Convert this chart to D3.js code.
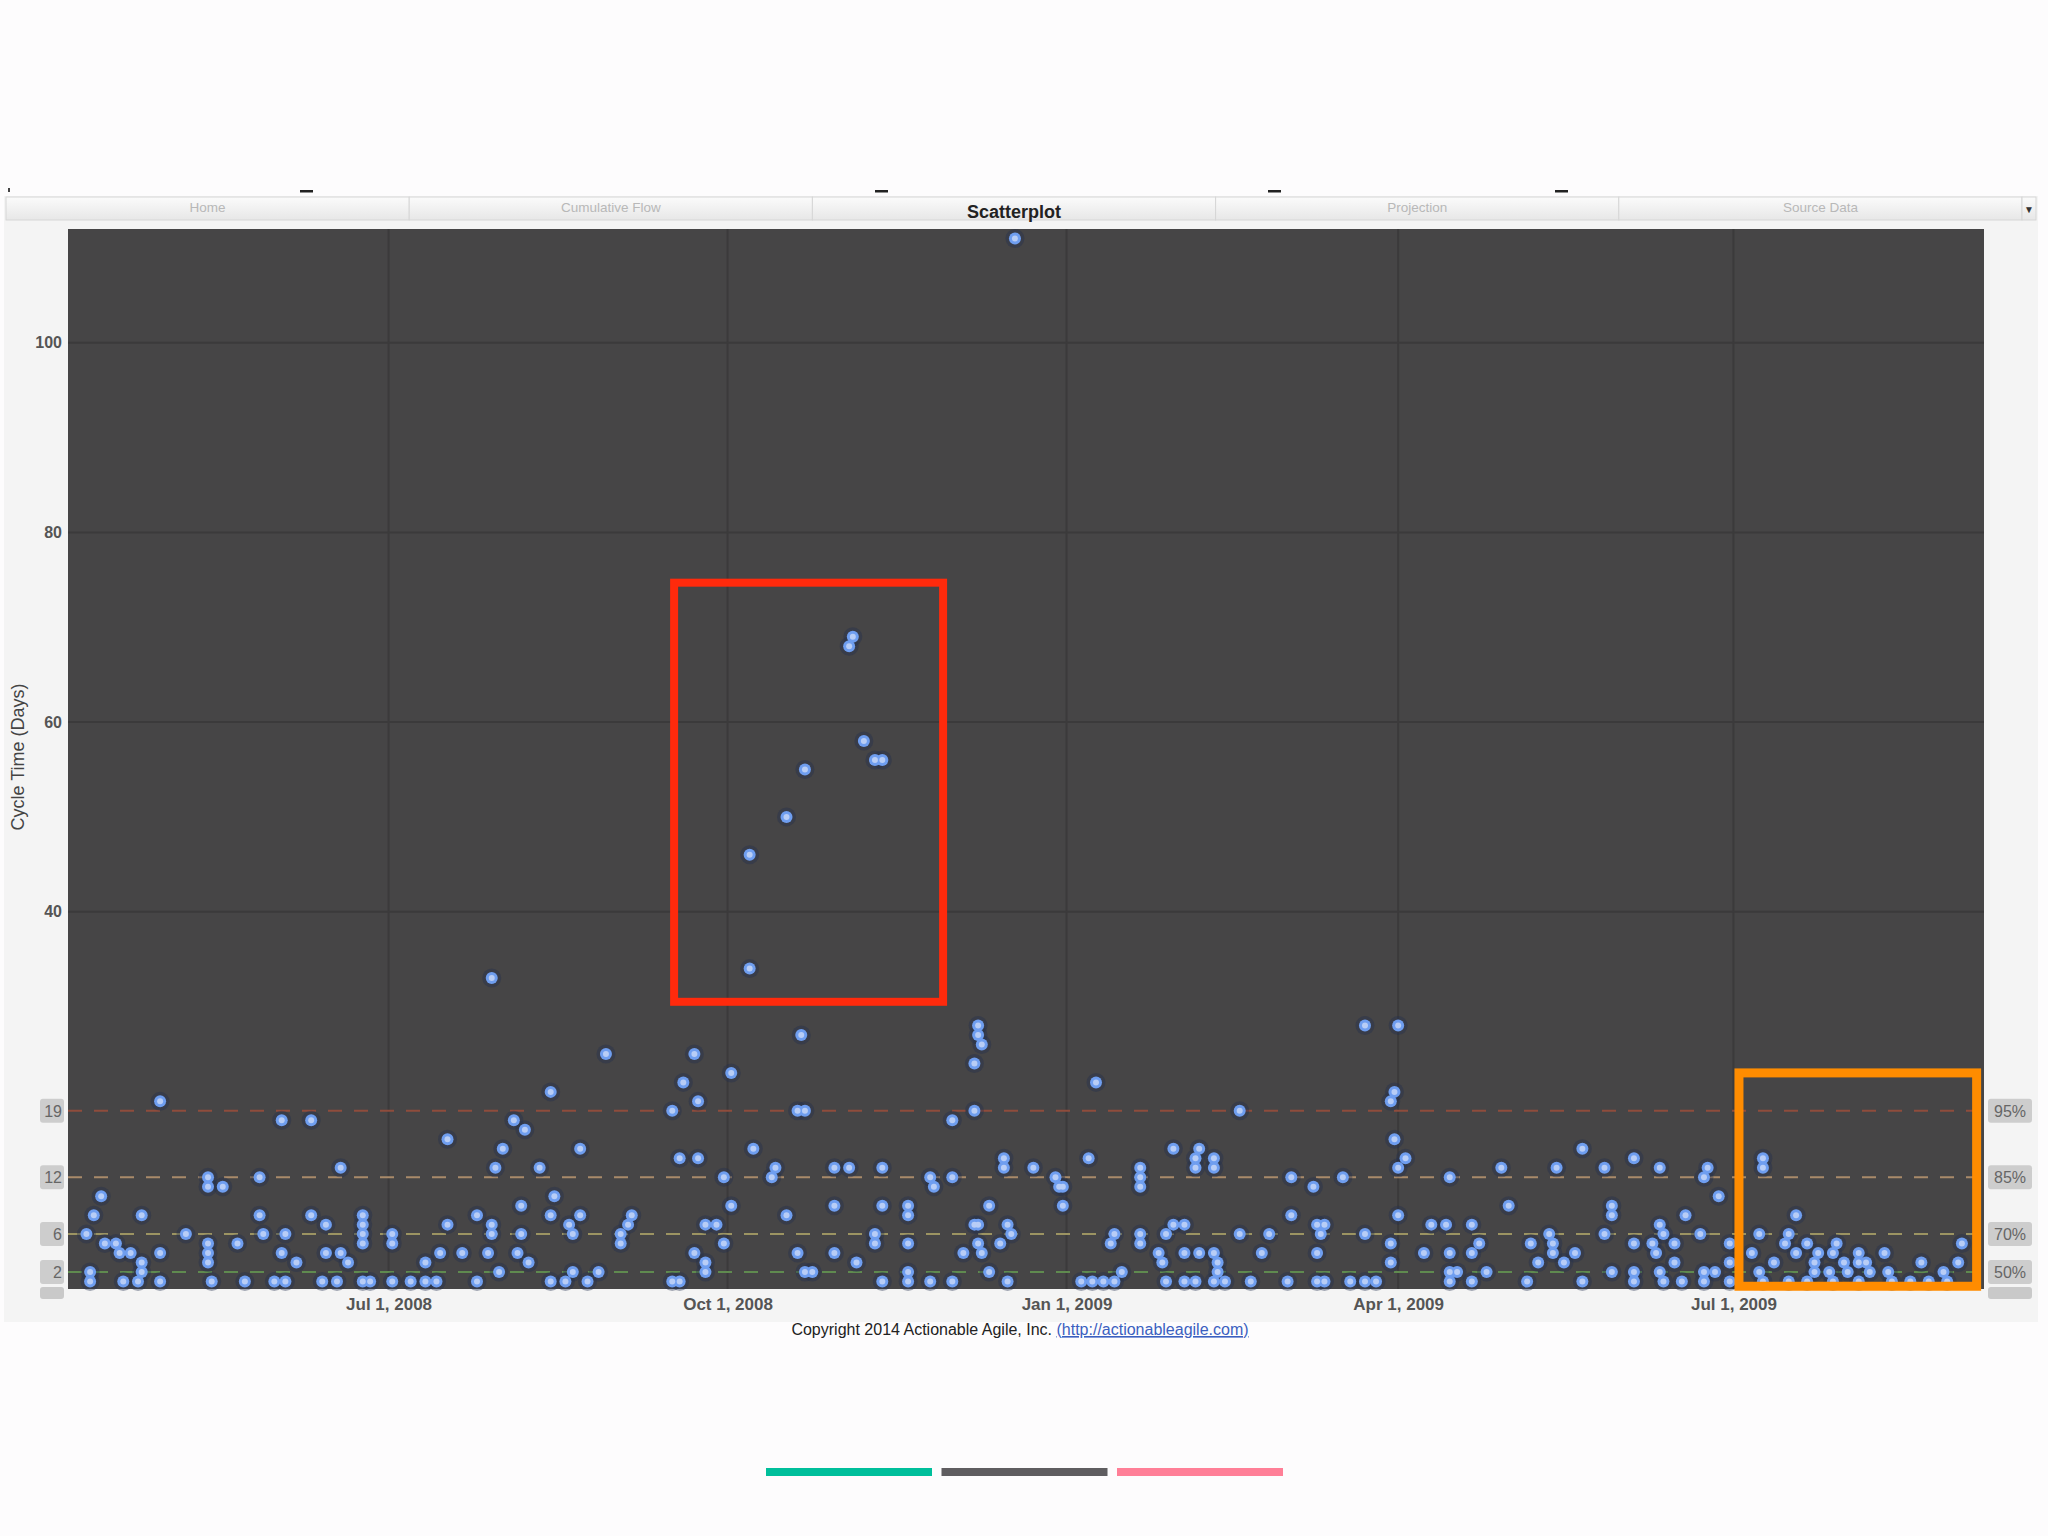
<!DOCTYPE html>
<html><head><meta charset="utf-8">
<script src="https://cdn.jsdelivr.net/npm/d3@7"></script>
<style>
html,body{margin:0;padding:0;background:#fdfcfd;}
svg{display:block;font-family:"Liberation Sans",Arial,sans-serif;}
</style>
</head><body>
<svg id="chart" width="2048" height="1536"></svg>
<script>
// ---------- DATA ----------
const startDate = "2008-04-05";
const endDate = "2009-09-07";
const tickDates = ["2008-07-01","2008-10-01","2009-01-01","2009-04-01","2009-07-01"];
const yTicks = [40,60,80,100];
const percentileNames = ["50%","70%","85%","95%"];
const percentileValues = [2,6,12,19];
const tabNames = ["Home","Cumulative Flow","Scatterplot","Projection","Source Data"];
const activeTab = "Scatterplot";
const legendBarColors = ["#00bf9b","#5f5d60","#ff7f97"];
// each item: [days since startDate, cycle time in days]
const itemsApr2008_Sep2008 = [[115,33],[25,20],[58,18],[66,18],[146,25],[170,25],[180,23],[131,21],[167,22],[171,20],[164,19],[121,18],[124,17],[103,16],[118,15],[139,15],[166,14],[171,14],[186,15],[74,13],[116,13],[128,13],[38,12],[38,11],[42,11],[52,12],[178,12],[9,10],[7,8],[20,8],[52,8],[66,8],[80,8],[70,7],[111,8],[123,9],[132,10],[131,8],[139,8],[180,9],[153,8],[152,7],[150,6],[150,5],[103,7],[115,7],[115,6],[136,7],[137,6],[173,7],[176,7],[5,6],[32,6],[53,6],[59,6],[80,7],[80,6],[80,5],[88,6],[88,5],[123,6],[10,5],[13,5],[14,4],[17,4],[25,4],[38,5],[38,4],[38,3],[46,5],[58,4],[62,3],[70,4],[74,4],[76,3],[97,3],[101,4],[107,4],[114,4],[122,4],[125,3],[178,5],[170,4],[173,3],[173,2],[20,3],[20,2],[6,2],[6,1],[117,2],[137,2],[144,2],[15,1],[19,1],[25,1],[39,1],[48,1],[56,1],[59,1],[69,1],[73,1],[80,1],[82,1],[88,1],[93,1],[97,1],[100,1],[111,1],[131,1],[135,1],[141,1],[164,1],[166,1]];
const itemsOct2008_Mar2009 = [[185,34],[185,46],[195,50],[200,55],[216,58],[219,56],[221,56],[212,68],[213,69],[257,111],[199,27],[198,19],[200,19],[192,13],[191,12],[208,13],[212,13],[221,13],[234,12],[235,11],[240,12],[254,14],[254,13],[262,13],[268,12],[269,11],[270,11],[270,9],[277,14],[279,22],[291,12],[291,11],[291,13],[300,15],[307,15],[306,14],[306,13],[311,14],[311,13],[318,19],[332,12],[338,11],[346,12],[352,28],[361,28],[359,20],[360,21],[360,16],[361,13],[363,14],[247,28],[247,27],[248,26],[246,24],[246,19],[240,18],[221,9],[208,9],[228,9],[228,8],[195,8],[250,9],[247,7],[246,7],[255,7],[256,6],[219,6],[219,5],[228,5],[198,4],[208,4],[214,3],[253,5],[243,4],[247,5],[248,4],[250,2],[228,2],[228,1],[200,2],[202,2],[221,1],[234,1],[240,1],[255,1],[284,6],[283,5],[291,6],[291,5],[300,7],[303,7],[298,6],[296,4],[297,3],[303,4],[307,4],[311,4],[312,3],[312,2],[318,6],[326,6],[324,4],[332,8],[339,7],[341,7],[340,6],[339,4],[352,6],[359,5],[359,3],[275,1],[278,1],[281,1],[284,1],[286,2],[298,1],[303,1],[306,1],[311,1],[314,1],[321,1],[331,1],[339,1],[341,1],[348,1],[352,1],[355,1],[361,8]];
const itemsApr2009_Sep2009 = [[375,12],[389,13],[391,9],[404,13],[411,15],[417,13],[425,14],[432,13],[445,13],[444,12],[448,10],[439,8],[419,9],[419,8],[370,7],[374,7],[381,7],[368,4],[375,4],[381,4],[383,5],[402,6],[403,5],[403,4],[406,3],[397,5],[399,3],[409,4],[417,6],[425,5],[432,7],[433,6],[430,5],[431,4],[436,5],[436,3],[443,6],[451,5],[451,3],[460,14],[460,13],[469,8],[459,6],[467,6],[466,5],[457,4],[463,3],[472,5],[469,4],[480,5],[479,4],[475,4],[474,3],[486,4],[493,4],[482,3],[486,3],[488,3],[503,3],[513,3],[514,5],[474,2],[478,2],[483,2],[489,2],[494,2],[509,2],[459,2],[460,1],[467,1],[472,1],[479,1],[486,1],[495,1],[500,1],[505,1],[510,1],[375,2],[377,2],[375,1],[381,1],[385,2],[396,1],[411,1],[419,2],[425,2],[425,1],[432,2],[433,1],[438,1],[444,2],[447,2],[444,1],[451,1]];
// highlight boxes: [startDay, endDay, lowCycleTime, highCycleTime]
const redHighlight = [164.5, 237.5, 30.5, 74.7];
const orangeHighlight = [453.5, 518.0, 0.5, 23.0];

// ---------- LAYOUT ----------
const parse = d3.timeParse("%Y-%m-%d");
const t0 = parse(startDate), t1 = parse(endDate);
const plot = {left:68, right:1984, top:229, bottom:1289};
const x = d3.scaleTime().domain([t0,t1]).range([plot.left, plot.right]);
const y = d3.scaleLinear().domain([0,112]).range([1291, plot.top]);
const svg = d3.select("#chart");

svg.append("rect").attr("width",2048).attr("height",1536).attr("fill","#fdfcfd");
// light panel
svg.append("rect").attr("x",4).attr("y",196).attr("width",2034).attr("height",1126).attr("fill","#f4f4f4");

// artifact marks above tabs
svg.selectAll(".dash").data([300,875,1268,1555]).enter().append("rect")
  .attr("x",d=>d).attr("y",190).attr("width",13).attr("height",2.5).attr("fill","#222");
svg.append("rect").attr("x",8).attr("y",188).attr("width",2).attr("height",4).attr("fill","#444");

// tabs
const defs = svg.append("defs");
const g1 = defs.append("linearGradient").attr("id","tabg").attr("x1",0).attr("x2",0).attr("y1",0).attr("y2",1);
g1.append("stop").attr("offset","0%").attr("stop-color","#fbfbfb");
g1.append("stop").attr("offset","100%").attr("stop-color","#e7e7e7");
const tabW = (2022-6)/tabNames.length;
const tabs = svg.append("g");
tabNames.forEach((n,i)=>{
  const tx = 6 + i*tabW;
  tabs.append("rect").attr("x",tx).attr("y",197).attr("width",tabW).attr("height",23)
    .attr("fill","url(#tabg)").attr("stroke","#d6d6d6").attr("stroke-width",1);
  tabs.append("text").attr("x",tx+tabW/2).attr("y", n===activeTab?218:212)
    .attr("text-anchor","middle")
    .attr("font-size", n===activeTab?18:13.5)
    .attr("font-weight", n===activeTab?"bold":"normal")
    .attr("fill", n===activeTab?"#222":"#b8b8b8")
    .text(n);
});
tabs.append("rect").attr("x",2022).attr("y",197).attr("width",14).attr("height",23).attr("fill","url(#tabg)").attr("stroke","#d6d6d6");
tabs.append("text").attr("x",2029).attr("y",213).attr("text-anchor","middle").attr("font-size",10).attr("fill","#333").text("▼");

// plot background
svg.append("rect").attr("x",plot.left).attr("y",plot.top).attr("width",plot.right-plot.left).attr("height",plot.bottom-plot.top).attr("fill","#464546");

// gridlines
const tickD = tickDates.map(parse);
svg.append("g").selectAll("line").data(tickD).enter().append("line")
  .attr("x1",d=>x(d)).attr("x2",d=>x(d)).attr("y1",plot.top).attr("y2",plot.bottom)
  .attr("stroke","#3b3a3b").attr("stroke-width",2);
svg.append("g").selectAll("line").data(yTicks).enter().append("line")
  .attr("x1",plot.left).attr("x2",plot.right).attr("y1",d=>y(d)).attr("y2",d=>y(d))
  .attr("stroke","#3b3a3b").attr("stroke-width",2);

// percentile lines
const pColors = ["#5f8a4f","#9c9462","#a98a6a","#8f4c3c"];
svg.append("g").selectAll("line").data(percentileValues).enter().append("line")
  .attr("x1",plot.left).attr("x2",plot.right).attr("y1",d=>y(d)).attr("y2",d=>y(d))
  .attr("stroke",(d,i)=>pColors[i]).attr("stroke-width",2).attr("stroke-dasharray","14,12");

// points
const allItems = itemsApr2008_Sep2008.concat(itemsOct2008_Mar2009, itemsApr2009_Sep2009)
  .map(d=>({date:d3.timeDay.offset(t0,d[0]), ct:d[1]}));
const pg = svg.append("g");
pg.selectAll(".halo").data(allItems).enter().append("circle")
  .attr("cx",d=>x(d.date)).attr("cy",d=>y(d.ct)).attr("r",9.5)
  .attr("fill","#22304e").attr("opacity",0.4);
pg.selectAll(".dot").data(allItems).enter().append("circle")
  .attr("cx",d=>x(d.date)).attr("cy",d=>y(d.ct)).attr("r",6)
  .attr("fill","#6f9ef0");
pg.selectAll(".hl").data(allItems).enter().append("circle")
  .attr("cx",d=>x(d.date)).attr("cy",d=>y(d.ct)).attr("r",3)
  .attr("fill","#b8cdf6");

// axes
const yAxis = d3.axisLeft(y).tickValues(yTicks).tickSize(0).tickPadding(6);
const ya = svg.append("g").attr("transform",`translate(${plot.left},0)`).call(yAxis);
ya.select(".domain").remove();
ya.selectAll("text").attr("font-size",16).attr("font-weight","bold").attr("fill","#555").attr("font-family","Liberation Sans, Arial");

const xAxis = d3.axisBottom(x).tickValues(tickD).tickFormat(d3.timeFormat("%b %-d, %Y")).tickSize(0).tickPadding(9);
const xa = svg.append("g").attr("transform",`translate(0,${plot.bottom})`).call(xAxis);
xa.select(".domain").remove();
xa.selectAll("text").attr("font-size",17).attr("font-weight","bold").attr("fill","#555").attr("font-family","Liberation Sans, Arial");

// percentile labels
const lg = svg.append("g");
lg.append("rect").attr("x",40).attr("y",y(0)-4).attr("width",24).attr("height",12).attr("rx",3).attr("fill","#c9c9c9");
lg.append("rect").attr("x",1988).attr("y",y(0)-4).attr("width",44).attr("height",12).attr("rx",3).attr("fill","#c9c9c9");
percentileValues.forEach((v,i)=>{
  lg.append("rect").attr("x",40).attr("y",y(v)-12).attr("width",24).attr("height",24).attr("rx",3).attr("fill","#cdcdcd");
  lg.append("text").attr("x",62).attr("y",y(v)+6).attr("text-anchor","end").attr("font-size",16).attr("fill","#666").text(v);
  lg.append("rect").attr("x",1988).attr("y",y(v)-12).attr("width",44).attr("height",24).attr("rx",3).attr("fill","#cdcdcd");
  lg.append("text").attr("x",2010).attr("y",y(v)+6).attr("text-anchor","middle").attr("font-size",16).attr("fill","#666").text(percentileNames[i]);
});

// axis title
svg.append("text").attr("transform",`translate(24,${(plot.top+plot.bottom)/2 - 2}) rotate(-90)`)
  .attr("text-anchor","middle").attr("font-size",18).attr("fill","#444").text("Cycle Time (Days)");

// highlight boxes
const dayW = x(d3.timeDay.offset(t0,1)) - x(t0);
function hbox(b,color,w){
  svg.append("rect")
    .attr("x",x(t0) + dayW*b[0])
    .attr("y",y(b[3]))
    .attr("width",dayW*(b[1]-b[0]))
    .attr("height",y(b[2])-y(b[3]))
    .attr("fill","none").attr("stroke",color).attr("stroke-width",w);
}
hbox(redHighlight,"#ff2a0c",8);
hbox(orangeHighlight,"#ff8c00",9);

// copyright
const ct = svg.append("text").attr("x",1020).attr("y",1335).attr("text-anchor","middle").attr("font-size",16).attr("fill","#222");
ct.append("tspan").text("Copyright 2014 Actionable Agile, Inc. ");
ct.append("tspan").attr("fill","#3b5fc0").attr("text-decoration","underline").text("(http://actionableagile.com)");

// bottom bars
svg.append("g").selectAll("rect").data(legendBarColors).enter().append("rect")
  .attr("x",(d,i)=>766+i*175.5).attr("y",1468).attr("width",166).attr("height",8).attr("fill",d=>d);
</script>
</body></html>
